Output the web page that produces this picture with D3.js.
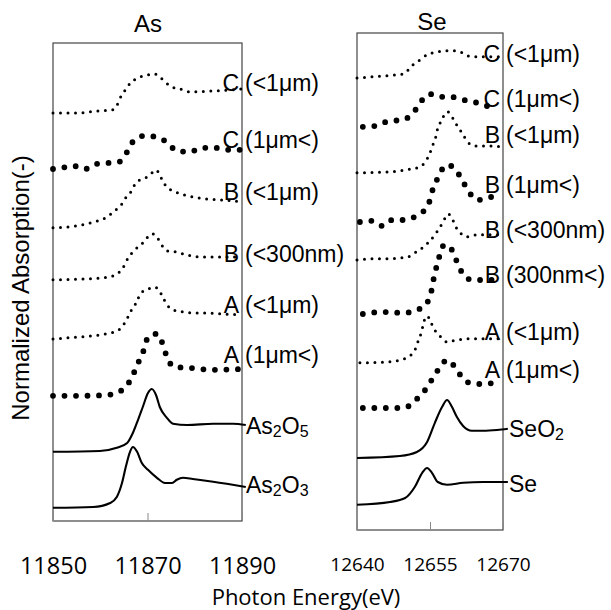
<!DOCTYPE html>
<html>
<head>
<meta charset="utf-8">
<script src="https://cdn.jsdelivr.net/npm/d3@7"></script>
<style>
  body { margin: 0; background: #fff; }
  svg { display: block; }
</style>
</head>
<body>
<div id="chart"></div>
<script>
// XANES spectra, As K-edge (left) and Se K-edge (right), stacked with offsets.
// values = normalized absorption + stacking offset (arbitrary units)

// ---- As panel ----
var asC_lt1 = [[11850,10.2],[11855,10.2],[11859.3,10.25],[11862.5,10.28],[11863.5,10.38],[11864,10.53],[11864.8,10.68],[11865.7,10.85],[11866.7,10.98],[11868,11.08],[11869.9,11.15],[11871.4,11.18],[11872.6,11.1],[11873.7,10.98],[11875.2,10.85],[11876.9,10.8],[11879,10.73],[11883.9,10.75],[11890,10.8]];
var asC_gt1 = [[11850,8.8],[11851.9,8.83],[11854.2,8.88],[11856.8,8.8],[11859.3,8.93],[11861.6,8.95],[11864,8.98],[11865.7,9.23],[11866.9,9.48],[11869.3,9.63],[11872,9.6],[11874.3,9.45],[11876.2,9.25],[11879,9.23],[11881.5,9.33],[11884.3,9.33],[11887,9.28],[11890,9.28]];
var asB_lt1 = [[11850,7.33],[11855.1,7.38],[11859.3,7.5],[11861.4,7.6],[11862.5,7.7],[11863.5,7.8],[11864.6,7.93],[11865.4,8.08],[11866.5,8.23],[11867.4,8.43],[11868.4,8.53],[11869.9,8.6],[11870.9,8.7],[11871.8,8.78],[11872.4,8.7],[11873.3,8.48],[11874.3,8.33],[11875.8,8.23],[11877.9,8.15],[11880.5,8.08],[11882.6,8.05],[11885.3,8.03],[11890,7.98]];
var asB_lt300 = [[11850,6.03],[11856.1,6.05],[11860.6,6.08],[11862.7,6.13],[11863.8,6.2],[11864.8,6.33],[11865.9,6.58],[11866.7,6.7],[11867.8,6.83],[11869,6.95],[11869.9,7.08],[11870.9,7.18],[11872,7.1],[11872.6,6.98],[11873.3,6.85],[11874.3,6.75],[11875.8,6.73],[11878.4,6.65],[11881.1,6.6],[11890,6.6]];
var asA_lt1 = [[11850,4.55],[11855.3,4.6],[11859.9,4.65],[11862.1,4.7],[11863.5,4.75],[11864.8,4.88],[11865.4,5.0],[11866.3,5.2],[11866.9,5.35],[11867.8,5.48],[11868.4,5.68],[11869.9,5.78],[11871.4,5.85],[11872.4,5.78],[11873.3,5.58],[11874.3,5.38],[11875.4,5.28],[11877.3,5.23],[11879.6,5.2],[11882.6,5.2],[11885.3,5.18],[11890,5.15]];
var asA_gt1 = [[11850,3.13],[11856.1,3.13],[11861.4,3.15],[11864,3.23],[11865.9,3.43],[11867.1,3.7],[11868.2,4.0],[11869.3,4.3],[11870.1,4.6],[11872,4.68],[11873.3,4.4],[11874.1,4.1],[11875.8,3.85],[11878.6,3.83],[11883.9,3.78],[11890,3.8]];
var as2o5 = [[11850,1.73],[11859.9,1.75],[11863.5,1.83],[11865.7,1.95],[11866.9,2.2],[11868,2.53],[11869,2.85],[11870.1,3.2],[11870.9,3.3],[11871.8,3.15],[11872.6,2.85],[11874.1,2.58],[11875.4,2.43],[11878.4,2.4],[11883.9,2.43],[11888.1,2.43],[11890.8,2.4]];
var as2o3 = [[11850,0.33],[11858.5,0.35],[11862.1,0.45],[11863.5,0.6],[11864.6,0.95],[11865.4,1.35],[11866.3,1.73],[11866.9,1.85],[11867.8,1.73],[11868.8,1.45],[11870.1,1.28],[11872,1.08],[11873.7,0.95],[11875.2,0.95],[11876.2,1.03],[11877.5,1.08],[11879.6,1.05],[11883.9,0.98],[11890.8,0.85]];

// ---- Se panel ----
var seC_lt1 = [[12640,11.3],[12645.3,11.35],[12648.2,11.38],[12649.5,11.4],[12650.5,11.5],[12651.5,11.63],[12652.9,11.75],[12654.4,11.88],[12656.4,11.95],[12658.5,11.98],[12659.7,11.98],[12661.6,11.93],[12662.8,11.85],[12664.7,11.83],[12666.7,11.83],[12670,11.83]];
var seC_gt1 = [[12641.2,10.08],[12643.7,10.1],[12645.3,10.18],[12647.4,10.23],[12649.2,10.25],[12650.9,10.35],[12652.3,10.55],[12653.4,10.75],[12655,10.9],[12656.6,10.83],[12658.7,10.83],[12660.8,10.8],[12662.6,10.73],[12664.7,10.68],[12666.7,10.6],[12668.8,10.6]];
var seB_lt1 = [[12640,8.93],[12646.2,8.95],[12648.8,8.98],[12651.3,9.03],[12652.9,9.08],[12654,9.2],[12655,9.43],[12655.6,9.63],[12656.2,9.83],[12656.6,10.05],[12657.5,10.25],[12658.1,10.43],[12658.7,10.45],[12659.3,10.38],[12660.1,10.2],[12661.2,10.0],[12662.2,9.8],[12663.2,9.65],[12664.7,9.6],[12666.7,9.6],[12669.5,9.58]];
var seB_gt1 = [[12640.6,7.7],[12643.1,7.73],[12645.3,7.6],[12647.2,7.75],[12649.2,7.75],[12650.9,7.78],[12652.5,7.88],[12654.2,8.05],[12655,8.25],[12655.6,8.53],[12656.4,8.75],[12657.3,8.98],[12658.5,9.13],[12660.3,9.0],[12661.6,8.75],[12663,8.45],[12664.9,8.25],[12666.7,8.3],[12668.4,8.35]];
var seB_lt300 = [[12640,6.75],[12643.3,6.78],[12646.2,6.78],[12648.8,6.8],[12650.5,6.83],[12651.9,6.93],[12653.4,7.05],[12654.6,7.18],[12656,7.38],[12657.1,7.58],[12658.1,7.8],[12658.7,7.9],[12659.5,7.8],[12660.3,7.58],[12661.2,7.43],[12662.6,7.33],[12664.7,7.38],[12669.5,7.38]];
var seB_gt300 = [[12641.2,5.4],[12645.1,5.45],[12649.2,5.43],[12651.3,5.45],[12652.9,5.53],[12654.4,5.68],[12655.2,5.93],[12656,6.43],[12656.6,6.68],[12657.5,7.08],[12658.3,7.13],[12659.1,7.08],[12660.1,6.83],[12660.8,6.63],[12662.2,6.33],[12663.8,6.25],[12665.9,6.25],[12667.9,6.25]];
var seA_lt1 = [[12640.6,4.18],[12646.2,4.2],[12648.8,4.25],[12650.5,4.33],[12651.9,4.5],[12652.5,4.7],[12653.2,4.93],[12653.6,5.13],[12654,5.3],[12654.4,5.35],[12655,5.25],[12655.6,5.08],[12656.4,4.93],[12657.5,4.8],[12658.5,4.7],[12660.5,4.75],[12663.2,4.78],[12669.5,4.78]];
var seA_gt1 = [[12641.2,3.05],[12646.2,3.05],[12649.2,3.05],[12651.3,3.15],[12652.5,3.3],[12654,3.5],[12655.6,3.8],[12657.1,4.08],[12658.5,4.25],[12660.1,4.08],[12661.2,3.88],[12662.6,3.7],[12664.7,3.65],[12668.6,3.68]];
var seo2 = [[12640,1.8],[12648.8,1.85],[12652.3,1.95],[12654.4,2.2],[12656,2.68],[12657.5,3.08],[12658.5,3.25],[12659.5,3.08],[12660.5,2.83],[12661.8,2.6],[12663.6,2.48],[12665.9,2.48],[12668.8,2.5],[12671,2.53]];
var se0 = [[12640,0.63],[12646.8,0.7],[12649.9,0.8],[12651.9,1.08],[12653.4,1.43],[12654.4,1.55],[12655.4,1.43],[12656.6,1.2],[12658.5,1.13],[12661.8,1.18],[12665.9,1.2],[12671,1.2]];

// labels: letter + size range, or formula parts (odd parts are subscripts)
var asSeries = [
  { data: asC_lt1,   letter: "C", rest: "(<1\u03bcm)",   level: 10.75, style: "small" },
  { data: asC_gt1,   letter: "C", rest: "(1\u03bcm<)",   level: 9.33,  style: "big" },
  { data: asB_lt1,   letter: "B", rest: "(<1\u03bcm)",   level: 8.03,  style: "small" },
  { data: asB_lt300, letter: "B", rest: "(<300nm)",      level: 6.48,  style: "small" },
  { data: asA_lt1,   letter: "A", rest: "(<1\u03bcm)",   level: 5.2,   style: "small" },
  { data: asA_gt1,   letter: "A", rest: "(1\u03bcm<)",   level: 3.95,  style: "big" },
  { data: as2o5,     name: ["As", "2", "O", "5"],        level: 2.18,  style: "solid" },
  { data: as2o3,     name: ["As", "2", "O", "3"],        level: 0.7,   style: "solid" }
];
var seSeries = [
  { data: seC_lt1,   letter: "C", rest: "(<1\u03bcm)",   level: 11.7,  style: "small" },
  { data: seC_gt1,   letter: "C", rest: "(1\u03bcm<)",   level: 10.58, style: "big" },
  { data: seB_lt1,   letter: "B", rest: "(<1\u03bcm)",   level: 9.68,  style: "small" },
  { data: seB_gt1,   letter: "B", rest: "(1\u03bcm<)",   level: 8.43,  style: "big" },
  { data: seB_lt300, letter: "B", rest: "(<300nm)",      level: 7.3,   style: "small" },
  { data: seB_gt300, letter: "B", rest: "(300nm<)",      level: 6.18,  style: "big" },
  { data: seA_lt1,   letter: "A", rest: "(<1\u03bcm)",   level: 4.75,  style: "small" },
  { data: seA_gt1,   letter: "A", rest: "(1\u03bcm<)",   level: 3.8,   style: "big" },
  { data: seo2,      name: ["SeO", "2"],                  level: 2.33,  style: "solid" },
  { data: se0,       name: ["Se"],                        level: 0.95,  style: "solid" }
];

var asTicks = [11850, 11870, 11890];
var seTicks = [12640, 12655, 12670];

var width = 611, height = 610;

var svg = d3.select("#chart").append("svg")
    .attr("width", width)
    .attr("height", height);

var labelFont = "'Liberation Sans', Arial, sans-serif";
var tickFont = "'Open Sans', sans-serif";

var panels = [
  { title: "As", series: asSeries, domain: [11850, 11890], ticks: asTicks,
    left: 53, right: 242, top: 43, bottom: 521, ymax: 11.95,
    tickSize: 23.5, tickPad: 36, titleY: 32, titleX: 148, nameGap: 4 },
  { title: "Se", series: seSeries, domain: [12640, 12670], ticks: seTicks,
    left: 357, right: 503, top: 33, bottom: 530, ymax: 12.425,
    tickSize: 19, tickPad: 28, titleY: 30, titleX: 432, nameGap: 6 }
];

panels.forEach(function(p) {
  var x = d3.scaleLinear().domain(p.domain).range([p.left, p.right]);
  var y = d3.scaleLinear().domain([0, p.ymax]).range([p.bottom, p.top]);

  var line = d3.line()
      .x(function(d) { return x(d[0]); })
      .y(function(d) { return y(d[1]); })
      .curve(d3.curveMonotoneX);

  var g = svg.append("g");

  // frame
  g.append("rect")
    .attr("x", p.left)
    .attr("y", p.top)
    .attr("width", p.right - p.left)
    .attr("height", p.bottom - p.top)
    .style("fill", "none")
    .style("stroke", "#444")
    .style("stroke-width", 1.2);

  // axis: inward ticks, labels far below
  var axis = g.append("g")
    .attr("transform", "translate(0," + p.bottom + ")")
    .call(d3.axisBottom(x).tickValues(p.ticks).tickSize(-8).tickPadding(p.tickPad).tickFormat(d3.format("d")));
  axis.select(".domain").remove();
  axis.selectAll(".tick line").style("stroke", "#888").style("stroke-width", 1);
  axis.selectAll(".tick text")
    .attr("y", p.tickPad)
    .style("font-family", tickFont)
    .style("font-size", p.tickSize + "px")
    .style("fill", "#000");

  // curves
  g.selectAll(".spec")
    .data(p.series)
    .enter().append("path")
    .attr("class", "spec")
    .attr("d", function(d) { return line(d.data); })
    .style("fill", "none")
    .style("stroke", "#000")
    .style("stroke-linecap", function(d) { return d.style === "solid" ? "butt" : "round"; })
    .style("stroke-linejoin", "round")
    .style("stroke-width", function(d) {
      return d.style === "solid" ? 2.1 : d.style === "big" ? 5.8 : 3;
    })
    .style("stroke-dasharray", function(d) {
      return d.style === "solid" ? null : d.style === "big" ? "0 11.5" : "0 7.5";
    });

  // labels
  p.series.forEach(function(s) {
    if (s.letter) {
      g.append("text")
        .attr("x", p.right - 3)
        .attr("y", y(s.level))
        .style("text-anchor", "end")
        .style("font-family", labelFont)
        .style("font-size", "23px")
        .text(s.letter);
      g.append("text")
        .attr("x", p.right + 3)
        .attr("y", y(s.level))
        .style("font-family", labelFont)
        .style("font-size", "23px")
        .text(s.rest);
    } else {
      var t = g.append("text")
        .attr("x", p.right + p.nameGap)
        .attr("y", y(s.level))
        .style("font-family", labelFont)
        .style("font-size", "23px");
      s.name.forEach(function(part, i) {
        var sub = i % 2 === 1;
        t.append("tspan")
          .style("font-size", sub ? "16px" : "23px")
          .attr("dy", sub ? 3 : (i > 0 ? -3 : 0))
          .text(part);
      });
    }
  });

  // panel title
  g.append("text")
    .attr("x", p.titleX)
    .attr("y", p.titleY)
    .style("text-anchor", "middle")
    .style("font-family", labelFont)
    .style("font-size", "24px")
    .text(p.title);
});

// axis titles
svg.append("text")
  .attr("x", 306)
  .attr("y", 605)
  .style("text-anchor", "middle")
  .style("font-family", tickFont)
  .style("font-size", "22px")
  .style("fill", "#000")
  .text("Photon Energy(eV)");

svg.append("text")
  .attr("transform", "translate(28.5,288) rotate(-90)")
  .style("text-anchor", "middle")
  .style("font-family", labelFont)
  .style("font-size", "24px")
  .text("Normalized Absorption(-)");
</script>
</body>
</html>
